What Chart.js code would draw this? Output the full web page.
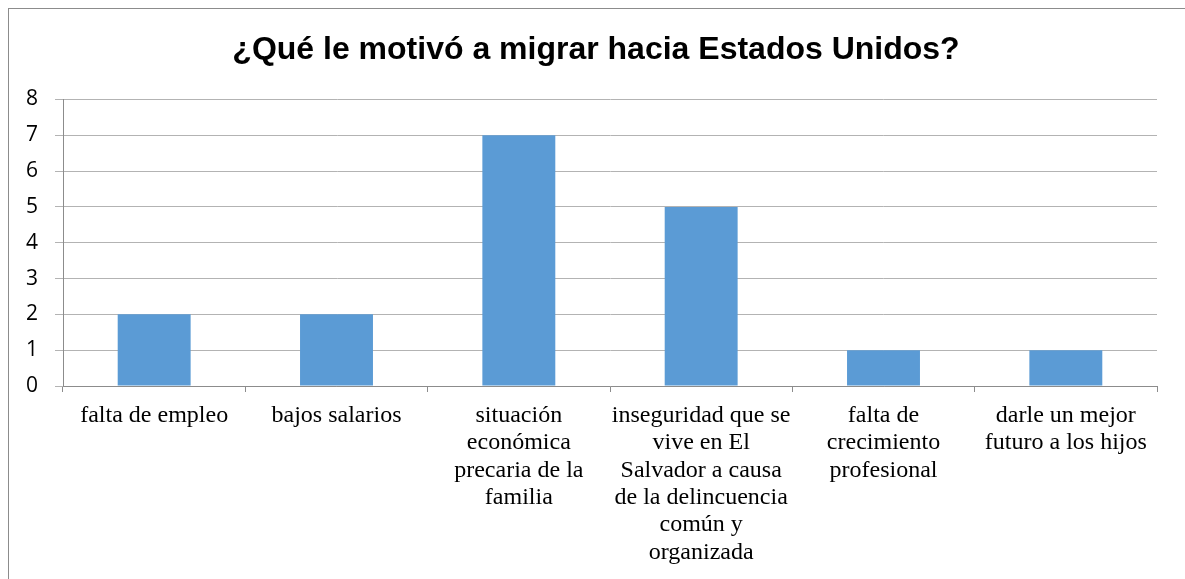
<html>
<head>
    <title>Motivos de migracion</title>
    <script src="https://cdn.jsdelivr.net/npm/chart.js@4.4.0/dist/chart.umd.min.js"></script>
    <style>
        body { margin: 0; background: #fff; }
        #wrap { position: relative; width: 1185px; height: 579px; overflow: hidden; }
        #frame { position: absolute; left: 8px; top: 8px; width: 1300px; height: 700px;
                 border-left: 1px solid #8c8c8c; border-top: 1px solid #8c8c8c; }
    </style>
</head>
<body>
<div id="wrap">
    <div id="frame"></div>
    <canvas id="motivosChart" width="1185" height="579"></canvas>
</div>

<script>
  // categorias (ya partidas en lineas como en el original)
  const categorias = [
    ['falta de empleo'],
    ['bajos salarios'],
    ['situación', 'económica', 'precaria de la', 'familia'],
    ['inseguridad que se', 'vive en El', 'Salvador a causa', 'de la delincuencia', 'común y', 'organizada'],
    ['falta de', 'crecimiento', 'profesional'],
    ['darle un mejor', 'futuro a los hijos']
  ]
  const respuestas = [2, 2, 7, 5, 1, 1]
  const yTicks = [0, 1, 2, 3, 4, 5, 6, 7, 8]

  const ctx = document.getElementById('motivosChart')
  new Chart(ctx, {
    type: 'bar',
    data: {
      labels: categorias,
      datasets: [{
        label: 'Respuestas',
        data: respuestas,
        backgroundColor: '#5b9bd5',
        borderWidth: 0,
        categoryPercentage: 1,
        barPercentage: 0.4
      }]
    },
    options: {
      responsive: false,
      animation: false,
      layout: { padding: { left: 7, right: 0, top: 0, bottom: 0 } },
      plugins: {
        legend: { display: false },
        tooltip: { enabled: false },
        title: {
          display: true,
          text: '¿Qué le motivó a migrar hacia Estados Unidos?',
          color: '#000',
          font: { family: 'Liberation Sans', size: 32, weight: 'bold' },
          padding: { top: 31, bottom: 30 }
        }
      },
      scales: {
        x: {
          grid: { drawOnChartArea: false, drawTicks: true, tickLength: 6, color: '#8c8c8c', offset: true },
          border: { color: '#8c8c8c' },
          ticks: {
            color: '#000',
            font: { family: 'Liberation Serif', size: 24, lineHeight: 1.14 },
            padding: 10,
            maxRotation: 0,
            autoSkip: false
          },
          afterFit: function (scale) { scale.height = 193 }
        },
        y: {
          min: 0,
          max: 8,
          afterBuildTicks: function (scale) { scale.ticks = yTicks.map(v => ({ value: v })) },
          grid: { color: '#b3b3b3', tickLength: 8 },
          border: { color: '#8c8c8c' },
          ticks: {
            color: '#000',
            font: { family: 'Open Sans', size: 21 },
            padding: 17
          },
          afterFit: function (scale) { scale.width = 56 }
        },
        // eje vacio a la derecha solo para reservar el margen
        y2: {
          position: 'right',
          display: true,
          grid: { display: false },
          border: { display: false },
          ticks: { display: false },
          afterFit: function (scale) { scale.width = 28 }
        }
      }
    }
  })
</script>
</body>
</html>
